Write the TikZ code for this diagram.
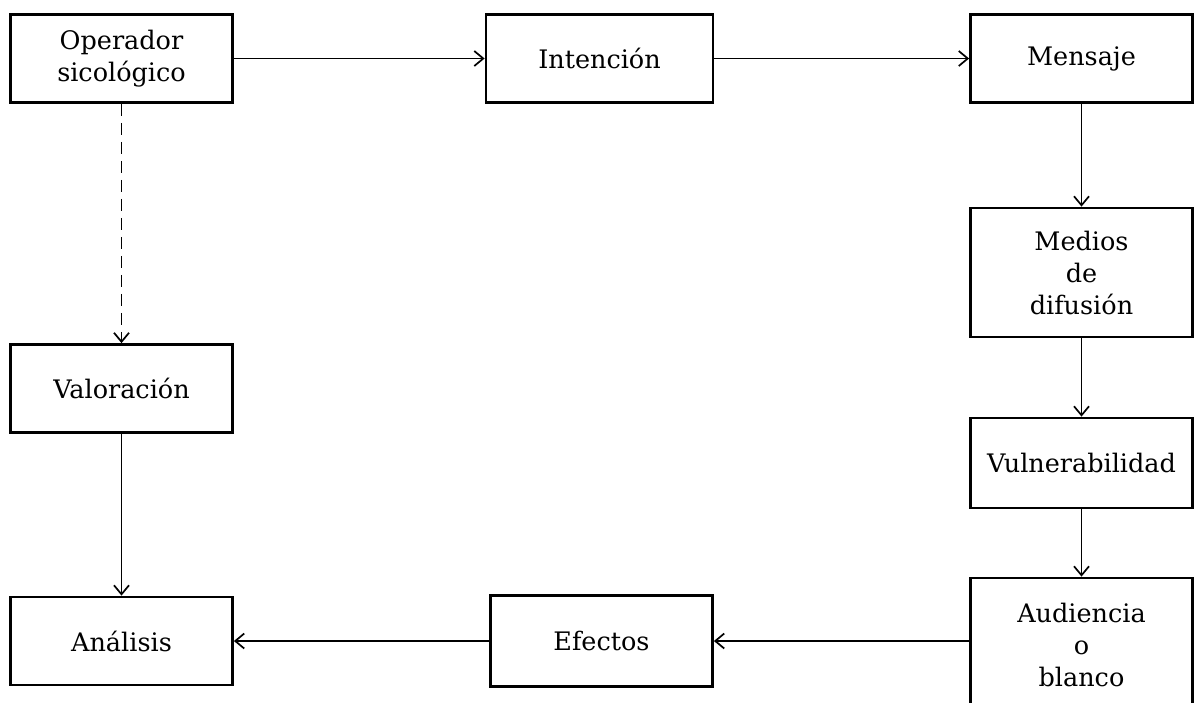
\documentclass[tikz,border=0pt]{standalone}
\usepackage{fontspec}
\setmainfont{DejaVu Serif}
\usetikzlibrary{arrows.meta, positioning}

\begin{document}
\begin{tikzpicture}[x=1pt, y=-1pt,
  caja/.style={draw, line width=2.8pt, minimum width=222pt, minimum height=88pt,
    align=center, inner sep=0pt, font=\fontsize{25.5}{32}\selectfont},
  flecha/.style={-{Straight Barb[length=9pt, width=15pt, line width=1.7pt]}, line width=1.7pt},
  punteada/.style={flecha, dash pattern=on 12pt off 7pt}]
  % page frame
  \useasboundingbox (0,0) rectangle (1195,702);

  % top row
  \node[caja] (oper) at (121.5,58.5) {Operador\\sicológico};
  \node[caja, minimum width=227pt] (inten) at (599.5,58.5) {Intención};
  \node[caja] (mens) at (1081.5,58.5) {Mensaje};

  % right column
  \node[caja, minimum height=129pt] (medios) at (1081.5,272.5) {Medios\\de\\difusión};
  \node[caja, minimum height=90pt] (vuln) at (1081.5,463) {Vulnerabilidad};
  \node[caja, minimum height=134pt] (aud) at (1081.5,645) {Audiencia\\o\\blanco};

  % left column and bottom row
  \node[caja] (valor) at (121.5,388.5) {Valoración};
  \node[caja] (anal) at (121.5,641) {Análisis};
  \node[caja, minimum height=91pt] (efect) at (601.5,641) {Efectos};

  % connectors
  \draw[flecha] (oper) -- (inten);
  \draw[flecha] (inten) -- (mens);
  \draw[flecha] (mens) -- (medios);
  \draw[flecha] (medios) -- (vuln);
  \draw[flecha] (vuln) -- (aud);
  \draw[flecha] (aud.west |- efect.east) -- (efect.east);
  \draw[flecha] (efect) -- (anal);
  \draw[punteada] (oper) -- (valor);
  \draw[flecha] (valor) -- (anal);
\end{tikzpicture}
\end{document}
